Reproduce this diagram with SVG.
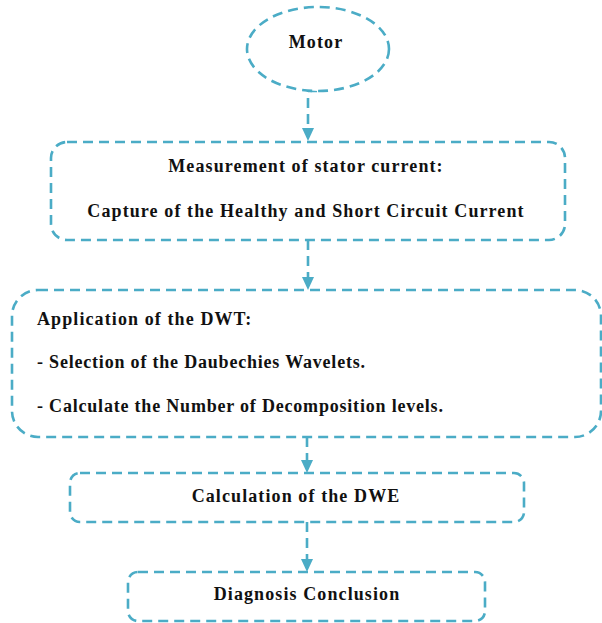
<svg xmlns="http://www.w3.org/2000/svg" width="602" height="623" viewBox="0 0 602 623">
<defs>
<style>
.n{fill:#fff;stroke:#4bacc6;stroke-width:2.6;stroke-dasharray:10,6}
.c{fill:none;stroke:#4bacc6;stroke-width:2.6;stroke-dasharray:10,6}
.a{fill:#4bacc6;stroke:none}
text{font-family:"Liberation Serif","Times New Roman",serif;font-weight:bold;font-size:18px;letter-spacing:1.1px;fill:#111}
.m{text-anchor:middle}
.t{letter-spacing:0.8px}
</style>
</defs>
<rect width="602" height="623" fill="#fff"/>
<g id="connectors">
<path class="c" d="M317,91 H308 V128"/>
<polygon class="a" points="302,128 314,128 308,141"/>
<path class="c" d="M308,240 V278"/>
<polygon class="a" points="302,277 314,277 308,290"/>
<path class="c" d="M307,437 V461"/>
<polygon class="a" points="301,460 313,460 307,473"/>
<path class="c" d="M307,522 V560"/>
<polygon class="a" points="301,559 313,559 307,572"/>
</g>
<g id="motor">
<ellipse class="n" cx="318" cy="49" rx="71" ry="42"/>
<text class="m" x="316" y="48">Motor</text>
</g>
<g id="measurement">
<rect class="n" x="51" y="142" width="514" height="98" rx="16"/>
<text class="m" x="306" y="172">Measurement of stator current:</text>
<text class="m" x="306" y="217">Capture of the Healthy and Short Circuit Current</text>
</g>
<g id="dwt">
<rect class="n" x="12" y="290" width="589" height="147" rx="26"/>
<text x="37" y="325">Application of the DWT:</text>
<text class="t" x="37" y="368">- Selection of the Daubechies Wavelets.</text>
<text class="t" x="37" y="412">- Calculate the Number of Decomposition levels.</text>
</g>
<g id="dwe">
<rect class="n" x="70" y="473" width="454" height="49" rx="10"/>
<text class="m" x="296" y="502">Calculation of the DWE</text>
</g>
<g id="diagnosis">
<rect class="n" x="128" y="572" width="357" height="49" rx="10"/>
<text class="m" x="307" y="600">Diagnosis Conclusion</text>
</g>
</svg>
